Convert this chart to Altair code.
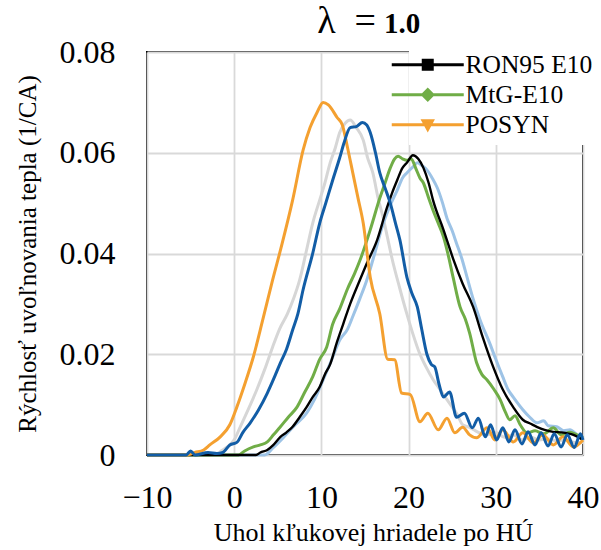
import altair as alt
import pandas as pd

SERIF = "Liberation Serif"

# ---- data ----
GRAY_X = [-10, -2, -1.5, -0.8, 0, 0.7, 1.6, 2.6, 3.5, 4.4, 5.2, 6.1, 6.8, 7.5, 8.3, 9.0, 9.8, 10.4, 11.0, 11.6,
          12.1, 12.7, 13.3, 14.0, 14.8, 15.3, 15.9, 16.5, 17.1, 17.6, 18.1, 19.0, 19.8, 20.5, 21.3, 22.0, 22.8,
          23.6, 24.4, 25.0, 25.5, 26.2, 27.0, 28.0, 29.0, 30, 31, 32, 33, 34, 35, 36, 37, 38, 39, 40]
GRAY_Y = [0, 0, 0.0008, 0.0016, 0.003, 0.0056, 0.009, 0.013, 0.017, 0.0214, 0.025, 0.028, 0.031, 0.0347, 0.0407,
          0.046, 0.0506, 0.054, 0.058, 0.061, 0.064, 0.0658, 0.0665, 0.065, 0.0625, 0.059, 0.056, 0.051, 0.047,
          0.043, 0.039, 0.033, 0.028, 0.024, 0.020, 0.0175, 0.015, 0.013, 0.011, 0.0095, 0.0083, 0.006, 0.0055,
          0.0045, 0.004, 0.0045, 0.0035, 0.004, 0.003, 0.0035, 0.003, 0.0032, 0.0028, 0.003, 0.0025, 0.0025]

ORANGE_X = [-10, -5.5, -4.5, -3.5, -2.8, -1.6, -0.5, 0.3, 1.2, 2.2, 3.3, 4.4, 5.5, 6.7, 7.9, 8.7, 9.5, 10.2, 10.8,
            11.8, 12.4, 13.0, 13.6, 14.2, 14.8, 15.6, 16.7, 17.6, 18.4, 19.2, 20.2, 21.3, 22.2, 23.4, 24.4, 25.3,
            26.2, 27.0, 27.8, 29.0, 29.9, 30.8, 32.0, 33.1, 34.3, 35.4, 36.6, 37.7, 38.9, 40.0]
ORANGE_Y = [0, 0, 0.0005, 0.001, 0.002, 0.0036, 0.006, 0.0095, 0.014, 0.0195, 0.027, 0.0347, 0.042, 0.0506, 0.0605,
            0.065, 0.068, 0.070, 0.0695, 0.067, 0.0655, 0.061, 0.056, 0.051, 0.046, 0.0353, 0.028, 0.019, 0.0189,
            0.0123, 0.012, 0.0066, 0.0083, 0.005, 0.0073, 0.0044, 0.0055, 0.004, 0.0034, 0.0054, 0.003, 0.005,
            0.0026, 0.0044, 0.0024, 0.004, 0.002, 0.0036, 0.0016, 0.003]

DBLUE_X = [-10, -5.5, -5.0, -4.5, -3.0, -2.0, -1.3, -0.5, 0.3, 1.0, 1.8, 2.8, 3.8, 4.5, 5.3, 6.0, 6.7, 7.3, 7.9,
           9.0, 9.8, 10.5, 11.3, 12.1, 12.6, 13.3, 14.0, 14.7, 15.2, 15.6, 16.2, 16.7, 17.3, 17.9, 18.5, 19.0,
           19.8, 20.4, 21.0, 21.5, 22.1, 22.6, 23.0, 23.5, 24.0, 24.7, 25.5, 26.4, 27.3, 28.0, 28.8, 29.4, 30.1,
           30.8, 31.5, 32.2, 33.0, 33.7, 34.5, 35.2, 36.0, 36.7, 37.5, 38.2, 39.0, 39.7, 40.0]
DBLUE_Y = [0, 0, 0.0008, 0, 0.0005, 0.0003, 0.0005, 0.002, 0.0025, 0.0045, 0.0063, 0.009, 0.0123, 0.015, 0.0183,
           0.021, 0.0248, 0.028, 0.0328, 0.040, 0.046, 0.050, 0.0546, 0.059, 0.062, 0.065, 0.0652, 0.066, 0.0655,
           0.064, 0.060, 0.056, 0.053, 0.050, 0.046, 0.0427, 0.0353, 0.032, 0.0294, 0.025, 0.020, 0.018, 0.0175,
           0.014, 0.0115, 0.0125, 0.0075, 0.0083, 0.0054, 0.0073, 0.0036, 0.006, 0.003, 0.0054, 0.0026, 0.005,
           0.0022, 0.0046, 0.002, 0.0044, 0.0018, 0.0042, 0.0016, 0.004, 0.0015, 0.0042, 0.003]

GREEN_X = [-10, 0.5, 1.2, 2.2, 3.0, 3.8, 4.5, 5.3, 6.2, 7.2, 8.1, 9.0, 9.8, 10.6, 11.3, 12.1, 13.0, 13.8, 14.5,
           15.6, 16.7, 17.3, 17.9, 18.4, 18.8, 19.3, 19.8, 20.3, 20.8, 21.3, 21.7, 22.3, 22.8, 23.4, 24.0, 24.5,
           25.1, 25.9, 26.5, 27.0, 27.8, 28.4, 29.0, 29.8, 30.5, 31.1, 31.6, 32.2, 32.8, 33.6, 34.5, 35.5, 36.6,
           37.5, 38.5, 39.3, 40.0]
GREEN_Y = [0, 0, 0.0008, 0.0016, 0.002, 0.0026, 0.004, 0.0056, 0.0075, 0.0095, 0.0125, 0.0155, 0.019, 0.0214,
           0.026, 0.029, 0.033, 0.036, 0.039, 0.0447, 0.051, 0.054, 0.057, 0.0588, 0.0593, 0.0588, 0.0585, 0.0588,
           0.057, 0.055, 0.054, 0.051, 0.0486, 0.046, 0.0433, 0.040, 0.0353, 0.0294, 0.027, 0.0242, 0.0183, 0.016,
           0.0149, 0.013, 0.011, 0.0085, 0.007, 0.0078, 0.006, 0.0044, 0.0048, 0.0042, 0.0054, 0.004, 0.0045,
           0.004, 0.0035]

BLACK_X = [-10, 2.5, 3.0, 3.8, 4.5, 5.3, 6.0, 6.7, 7.5, 8.3, 9.0, 9.8, 10.4, 11.0, 11.8, 12.5, 13.3, 14.4, 15.2,
           16.4, 17.5, 18.1, 18.7, 19.3, 19.8, 20.5, 21.1, 21.7, 22.3, 22.8, 24.0, 25.1, 26.2, 27.4, 28.5, 29.7,
           30.8, 32.0, 33.1, 34.0, 34.7, 35.6, 36.6, 37.5, 38.9, 40.0]
BLACK_Y = [0, 0, 0.0005, 0.001, 0.002, 0.0036, 0.0045, 0.0056, 0.0075, 0.0095, 0.0115, 0.0135, 0.016, 0.018,
           0.0225, 0.026, 0.030, 0.0347, 0.038, 0.0427, 0.049, 0.052, 0.0546, 0.057, 0.058, 0.0595, 0.0588, 0.057,
           0.054, 0.0506, 0.0447, 0.039, 0.034, 0.0294, 0.0234, 0.0175, 0.013, 0.0095, 0.007, 0.0062, 0.0056,
           0.005, 0.0046, 0.0045, 0.004, 0.003]

LBLUE_X = [-10, 3.5, 4.5, 5.6, 7.0, 8.3, 9.2, 10.2, 11.2, 12.1, 13.0, 13.6, 14.4, 15.2, 15.9, 17.1, 18.0, 18.7,
           19.3, 19.8, 20.5, 21.0, 21.5, 22.1, 22.7, 23.3, 23.9, 24.4, 25.0, 25.5, 26.1, 26.7, 27.4, 28.2, 29.3,
           30.0, 30.8, 31.4, 32.0, 33.1, 33.9, 34.7, 35.5, 36.0, 37.0, 37.8, 38.5, 39.3, 40.0]
LBLUE_Y = [0, 0, 0.0015, 0.0034, 0.006, 0.0083, 0.011, 0.0149, 0.019, 0.0228, 0.025, 0.0275, 0.031, 0.0347,
           0.0387, 0.046, 0.050, 0.0526, 0.055, 0.056, 0.0572, 0.058, 0.0575, 0.0566, 0.055, 0.053, 0.050, 0.047,
           0.0445, 0.042, 0.039, 0.0353, 0.031, 0.0268, 0.0222, 0.019, 0.0155, 0.013, 0.0115, 0.009, 0.0075,
           0.0064, 0.0068, 0.0058, 0.0056, 0.0048, 0.005, 0.004, 0.003]

# draw order (first = bottom)
SERIES = ["Séria A", "Séria B", "MtG-E10", "RON95 E10", "POSYN", "Séria C"]
COLORS = ["#d6d6d6", "#9dc3e6", "#70ad47", "#000000", "#f4a030", "#125da6"]
SERIES_DATA = [(GRAY_X, GRAY_Y), (LBLUE_X, LBLUE_Y), (GREEN_X, GREEN_Y),
               (BLACK_X, BLACK_Y), (ORANGE_X, ORANGE_Y), (DBLUE_X, DBLUE_Y)]

LEGEND_NAMES = ["RON95 E10", "MtG-E10", "POSYN"]
LEGEND_COLORS = ["#000000", "#70ad47", "#f4a030"]
LEGEND_SHAPES = [
    "M-6,-0.25L6,-0.25L6,0.25L-6,0.25Z M-1,-1L1,-1L1,1L-1,1Z",
    "M-6,-0.25L6,-0.25L6,0.25L-6,0.25Z M0,-1.2L1.2,0L0,1.2L-1.2,0Z",
    "M-6,-0.25L6,-0.25L6,0.25L-6,0.25Z M-1.2,-0.9L1.2,-0.9L0,1.3Z",
]

X_TICKS = [-10, 0, 10, 20, 30, 40]
Y_TICKS = [0, 0.02, 0.04, 0.06, 0.08]
X_TITLE = "Uhol kľukovej hriadele po HÚ"
Y_TITLE = "Rýchlosť uvoľnovania tepla (1/CA)"
TITLE_LEFT = "λ\u2002="
TITLE_RIGHT = "1.0"

frames = []
for name, (xs, ys) in zip(SERIES, SERIES_DATA):
    frames.append(pd.DataFrame({"deg": xs, "val": ys, "series": name}))
df = pd.concat(frames, ignore_index=True)

x_enc = alt.X(
    "deg:Q",
    scale=alt.Scale(domain=[-10, 40], nice=False),
    axis=alt.Axis(
        values=X_TICKS, ticks=False, domain=False, grid=True, gridColor="#d9d9d9", gridWidth=1.8,
        labelFont=SERIF, labelFontSize=32, labelColor="black", labelBaseline="alphabetic",
        labelPadding=52, labelFlush=False, labelOverlap=False,
        title=X_TITLE, titleFont=SERIF, titleFontSize=26, titleFontWeight="normal", titleColor="black",
        titleX=226, titleY=85, titleBaseline="alphabetic", titleAlign="center",
    ),
)
y_enc = alt.Y(
    "val:Q",
    scale=alt.Scale(domain=[0, 0.08], nice=False),
    axis=alt.Axis(
        values=Y_TICKS, ticks=False, domain=False, grid=True, gridColor="#d9d9d9", gridWidth=1.8,
        labelExpr="datum.value == 0 ? '0' : format(datum.value, '.2f')",
        labelFont=SERIF, labelFontSize=32, labelColor="black", labelPadding=32, labelOverlap=False,
        title=Y_TITLE, titleFont=SERIF, titleFontSize=25, titleFontWeight="normal", titleColor="black",
        titleX=-120, titleY=201.5, titleAngle=270, titleAlign="center", titleBaseline="middle",
    ),
)

base = alt.Chart(df)

lines = base.mark_line(interpolate="monotone").encode(
    x=x_enc,
    y=y_enc,
    color=alt.Color("series:N", scale=alt.Scale(domain=SERIES, range=COLORS), legend=None),
    strokeWidth=alt.condition("datum.series == 'RON95 E10'", alt.value(2.4), alt.value(3)),
)

leg = alt.Legend(
    title=None, orient="none", legendX=262, legendY=-6, fillColor="white", padding=6,
    labelFont=SERIF, labelFontSize=25.5, labelColor="black", labelOffset=25, labelLimit=0,
    rowPadding=3, symbolSize=144, symbolStrokeWidth=0, symbolOpacity=1,
)

legend_layer = base.transform_filter("datum.deg > 1000").mark_point(filled=True, opacity=1).encode(
    x="deg:Q",
    y="val:Q",
    fill=alt.Fill("series:N", scale=alt.Scale(domain=LEGEND_NAMES, range=LEGEND_COLORS), legend=leg),
    shape=alt.Shape("series:N", scale=alt.Scale(domain=LEGEND_NAMES, range=LEGEND_SHAPES), legend=leg),
)

t_left = alt.Chart(alt.Data(values=[{"t": TITLE_LEFT}])).mark_text(
    font=SERIF, fontSize=38, align="right", baseline="alphabetic", color="black"
).encode(text="t:N", x=alt.value(229), y=alt.value(-19))

t_right = alt.Chart(alt.Data(values=[{"t": TITLE_RIGHT}])).mark_text(
    font=SERIF, fontSize=29, fontWeight="bold", align="left", baseline="alphabetic", color="black"
).encode(text="t:N", x=alt.value(237), y=alt.value(-19))

chart = alt.layer(lines, legend_layer, t_left, t_right).properties(
    width=436,
    height=403,
    autosize=alt.AutoSizeParams(type="none"),
    padding={"left": 147, "top": 52, "right": 18, "bottom": 95},
    background="white",
).configure_view(stroke="black", strokeWidth=2)

chart.save("out.html", embed_options={"renderer": "svg", "actions": False})
